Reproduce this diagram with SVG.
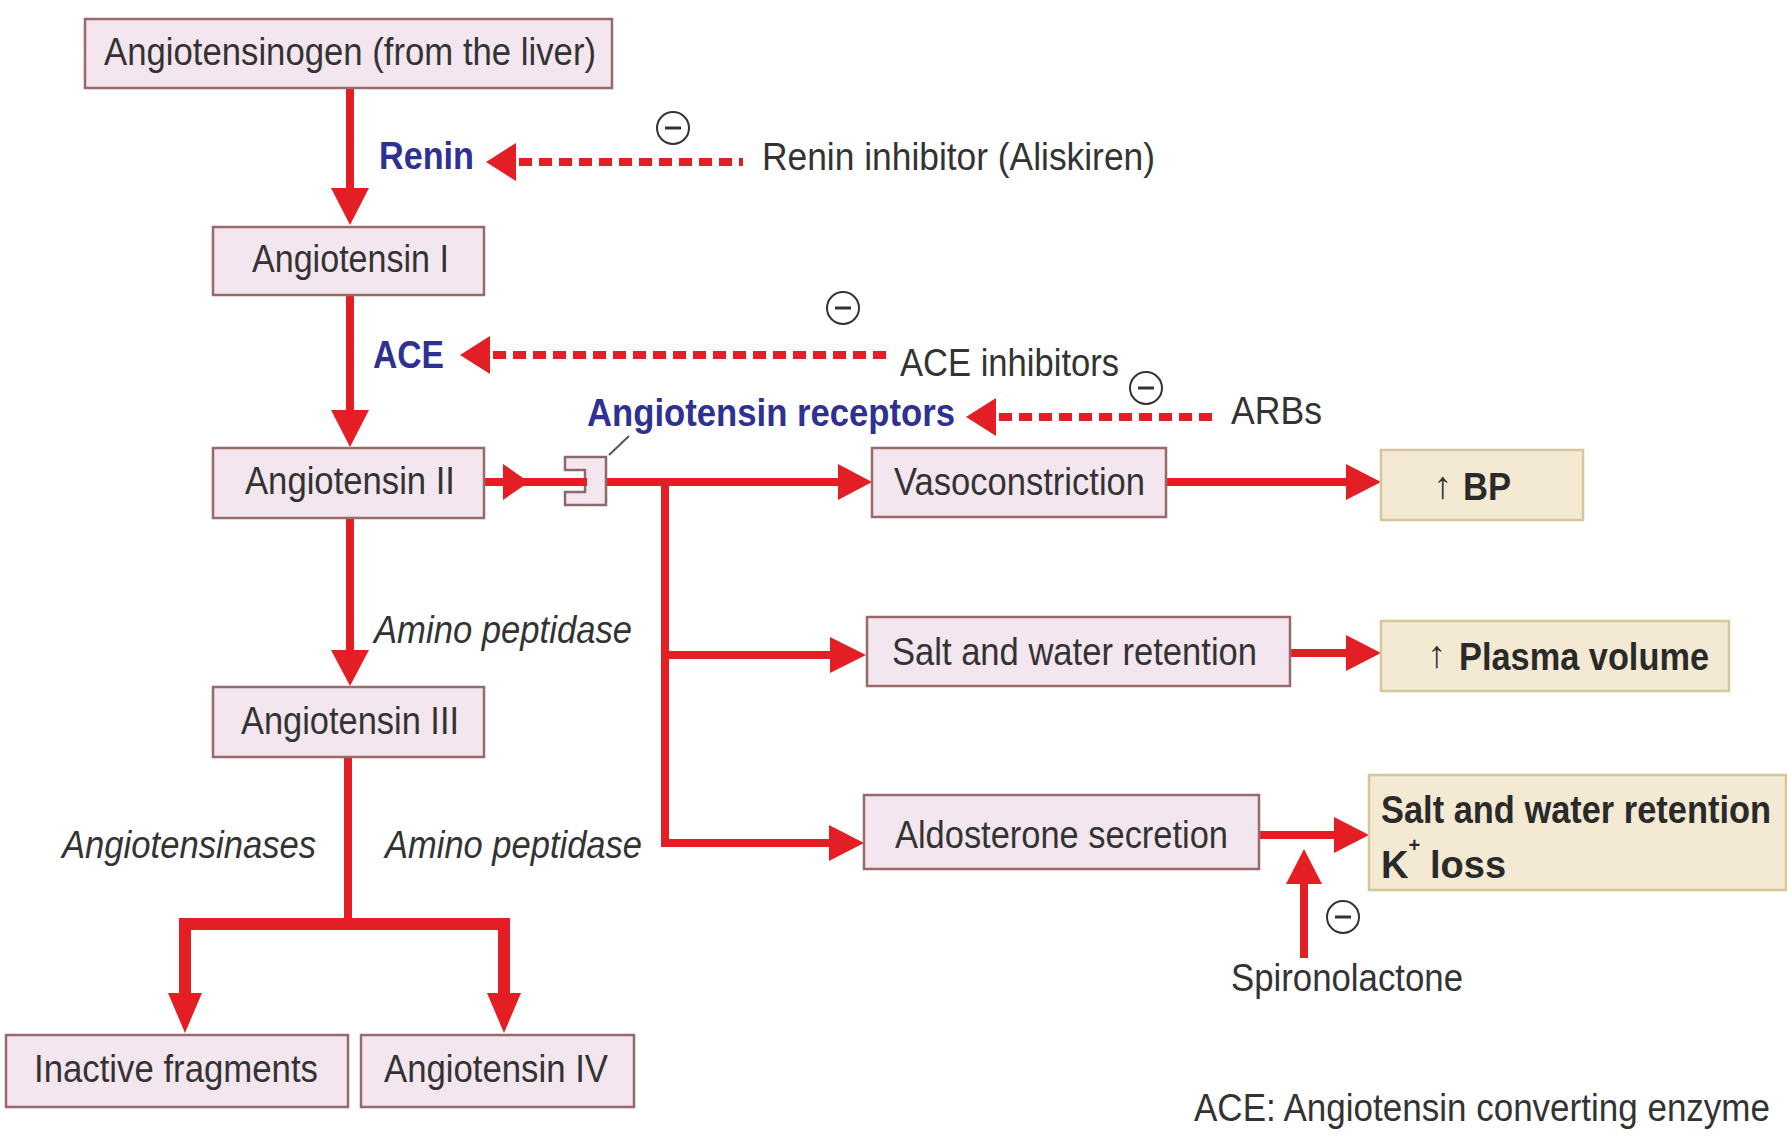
<svg xmlns="http://www.w3.org/2000/svg" width="1787" height="1139" viewBox="0 0 1787 1139">
<style>
.box{fill:#f4e6ee;stroke:#9a6a6a;stroke-width:2.5}
.res{fill:#f4ead3;stroke:#d6c69c;stroke-width:2.5}
.t{font-family:"Liberation Sans",Arial,sans-serif;font-size:38px;fill:#333}
.b{font-weight:bold;fill:#2a2a2a}
.blue{font-weight:bold;fill:#2e3192}
.i{font-style:italic}
.ln{stroke:#e31e24;stroke-width:8;fill:none}
.thick{stroke:#e31e24;stroke-width:12;fill:none}
.dash{stroke:#e31e24;stroke-width:8;fill:none;stroke-dasharray:13 7}
.ah{fill:#e31e24}
.inh{fill:#fff;stroke:#333;stroke-width:2}
.minus{stroke:#333;stroke-width:3}
</style>
<rect width="1787" height="1139" fill="#fff"/>

<g id="connectors">
  <line class="ln" x1="350" y1="88" x2="350" y2="192"/>
  <polygon class="ah" points="331,188 369,188 350,225"/>
  <line class="ln" x1="350" y1="295" x2="350" y2="414"/>
  <polygon class="ah" points="331,410 369,410 350,447"/>
  <line class="ln" x1="350" y1="518" x2="350" y2="654"/>
  <polygon class="ah" points="331,650 369,650 350,686"/>
  <line class="ln" x1="348" y1="757" x2="348" y2="924"/>
  <polyline class="thick" points="185,998 185,924 504,924 504,998"/>
  <polygon class="ah" points="168,993 202,993 185,1033"/>
  <polygon class="ah" points="487,993 521,993 504,1033"/>

  <line class="ln" x1="484" y1="482" x2="587" y2="482"/>
  <polygon class="ah" points="503,464 503,500 529,482"/>
  <line class="ln" x1="606" y1="482" x2="842" y2="482"/>
  <polygon class="ah" points="838,464 838,500 872,482"/>
  <line class="ln" x1="665" y1="478" x2="665" y2="847"/>
  <line class="ln" x1="661" y1="655" x2="834" y2="655"/>
  <polygon class="ah" points="830,637 830,673 866,655"/>
  <line class="ln" x1="661" y1="843" x2="833" y2="843"/>
  <polygon class="ah" points="829,825 829,861 864,843"/>

  <line class="ln" x1="1166" y1="482" x2="1350" y2="482"/>
  <polygon class="ah" points="1346,464 1346,500 1381,482"/>
  <line class="ln" x1="1290" y1="653" x2="1350" y2="653"/>
  <polygon class="ah" points="1346,635 1346,671 1381,653"/>
  <line class="ln" x1="1259" y1="835" x2="1338" y2="835"/>
  <polygon class="ah" points="1334,817 1334,853 1369,835"/>
  <line class="ln" x1="1304" y1="958" x2="1304" y2="880"/>
  <polygon class="ah" points="1286,884 1322,884 1304,849"/>

  <line class="dash" x1="519" y1="162" x2="743" y2="162"/>
  <polygon class="ah" points="516,143 516,181 486,162"/>
  <line class="dash" x1="493" y1="355" x2="887" y2="355"/>
  <polygon class="ah" points="490,336 490,374 460,355"/>
  <line class="dash" x1="999" y1="417" x2="1217" y2="417"/>
  <polygon class="ah" points="996,398 996,436 966,417"/>

  <line x1="609" y1="455" x2="629" y2="436" stroke="#555" stroke-width="2"/>
</g>

<g id="receptor">
  <path d="M565,457 H606 V505 H565 V492 H585 V470 H565 Z" fill="#f4e6ee" stroke="#8a6a6a" stroke-width="2.5"/>
  <line class="ln" x1="565" y1="482" x2="587" y2="482"/>
</g>

<g id="angiotensinogen">
  <rect class="box" x="85" y="19" width="527" height="69"/>
  <text class="t" x="104" y="65" textLength="492" lengthAdjust="spacingAndGlyphs">Angiotensinogen (from the liver)</text>
</g>
<g id="angiotensin1">
  <rect class="box" x="213" y="227" width="271" height="68"/>
  <text class="t" x="252" y="272" textLength="197" lengthAdjust="spacingAndGlyphs">Angiotensin I</text>
</g>
<g id="angiotensin2">
  <rect class="box" x="213" y="448" width="271" height="70"/>
  <text class="t" x="245" y="494" textLength="210" lengthAdjust="spacingAndGlyphs">Angiotensin II</text>
</g>
<g id="angiotensin3">
  <rect class="box" x="213" y="687" width="271" height="70"/>
  <text class="t" x="241" y="734" textLength="218" lengthAdjust="spacingAndGlyphs">Angiotensin III</text>
</g>
<g id="inactive">
  <rect class="box" x="6" y="1035" width="342" height="72"/>
  <text class="t" x="34" y="1082" textLength="284" lengthAdjust="spacingAndGlyphs">Inactive fragments</text>
</g>
<g id="angiotensin4">
  <rect class="box" x="361" y="1035" width="273" height="72"/>
  <text class="t" x="384" y="1082" textLength="224" lengthAdjust="spacingAndGlyphs">Angiotensin IV</text>
</g>
<g id="vasoconstriction">
  <rect class="box" x="872" y="448" width="294" height="69"/>
  <text class="t" x="894" y="495" textLength="251" lengthAdjust="spacingAndGlyphs">Vasoconstriction</text>
</g>
<g id="saltwater">
  <rect class="box" x="867" y="617" width="423" height="69"/>
  <text class="t" x="892" y="665" textLength="365" lengthAdjust="spacingAndGlyphs">Salt and water retention</text>
</g>
<g id="aldosterone">
  <rect class="box" x="864" y="795" width="395" height="74"/>
  <text class="t" x="895" y="848" textLength="333" lengthAdjust="spacingAndGlyphs">Aldosterone secretion</text>
</g>
<g id="bp">
  <rect class="res" x="1381" y="450" width="202" height="70"/>
  <text class="t" x="1433" y="498">↑</text>
  <text class="t b" x="1463" y="500" textLength="48" lengthAdjust="spacingAndGlyphs">BP</text>
</g>
<g id="plasma">
  <rect class="res" x="1381" y="621" width="348" height="70"/>
  <text class="t" x="1427" y="667">↑</text>
  <text class="t b" x="1459" y="670" textLength="250" lengthAdjust="spacingAndGlyphs">Plasma volume</text>
</g>
<g id="saltresult">
  <rect class="res" x="1369" y="775" width="417" height="115"/>
  <text class="t b" x="1381" y="823" textLength="390" lengthAdjust="spacingAndGlyphs">Salt and water retention</text>
  <text class="t b" x="1381" y="878">K<tspan dy="-26" style="font-size:20px">+</tspan><tspan x="1430" y="878">loss</tspan></text>
</g>

<g id="labels">
  <text class="t blue" x="379" y="169" textLength="95" lengthAdjust="spacingAndGlyphs">Renin</text>
  <text class="t blue" x="373" y="368" textLength="71" lengthAdjust="spacingAndGlyphs">ACE</text>
  <text class="t blue" x="587" y="426" textLength="368" lengthAdjust="spacingAndGlyphs">Angiotensin receptors</text>
  <text class="t" x="762" y="170" textLength="393" lengthAdjust="spacingAndGlyphs">Renin inhibitor (Aliskiren)</text>
  <text class="t" x="900" y="376" textLength="219" lengthAdjust="spacingAndGlyphs">ACE inhibitors</text>
  <text class="t" x="1231" y="424" textLength="91" lengthAdjust="spacingAndGlyphs">ARBs</text>
  <text class="t i" x="374" y="643" textLength="258" lengthAdjust="spacingAndGlyphs">Amino peptidase</text>
  <text class="t i" x="62" y="858" textLength="254" lengthAdjust="spacingAndGlyphs">Angiotensinases</text>
  <text class="t i" x="385" y="858" textLength="257" lengthAdjust="spacingAndGlyphs">Amino peptidase</text>
  <text class="t" x="1231" y="991" textLength="232" lengthAdjust="spacingAndGlyphs">Spironolactone</text>
  <text class="t" x="1194" y="1121" textLength="576" lengthAdjust="spacingAndGlyphs">ACE: Angiotensin converting enzyme</text>
</g>

<g id="inhibition-signs">
  <circle class="inh" cx="673" cy="128" r="16"/><line class="minus" x1="665" y1="128" x2="681" y2="128"/>
  <circle class="inh" cx="843" cy="308" r="16"/><line class="minus" x1="835" y1="308" x2="851" y2="308"/>
  <circle class="inh" cx="1146" cy="388" r="16"/><line class="minus" x1="1138" y1="388" x2="1154" y2="388"/>
  <circle class="inh" cx="1343" cy="917" r="16"/><line class="minus" x1="1335" y1="917" x2="1351" y2="917"/>
</g>
</svg>
